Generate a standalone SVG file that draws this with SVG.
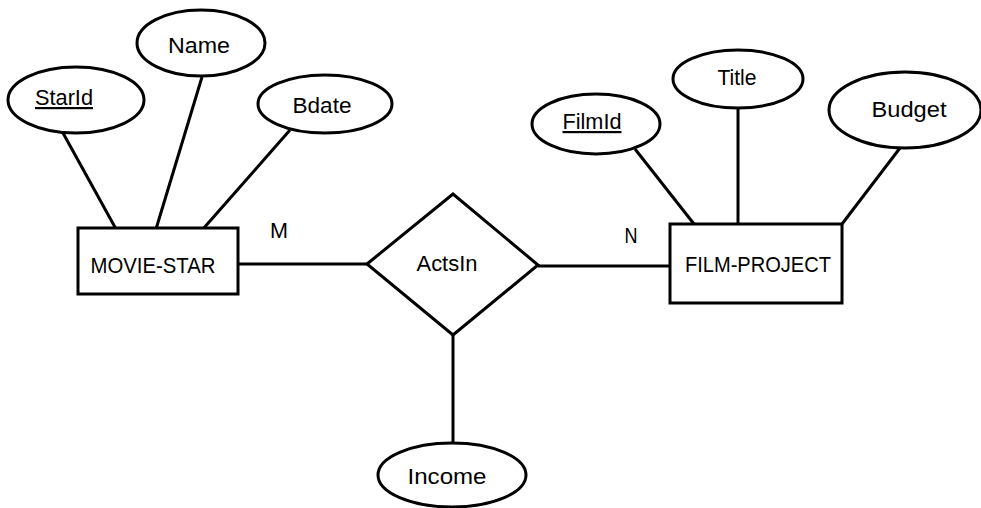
<svg xmlns="http://www.w3.org/2000/svg" width="981" height="508" viewBox="0 0 981 508">
  <style>
    .shape { fill: #fff; stroke: #000; stroke-width: 3; }
    .link { stroke: #000; stroke-width: 3; fill: none; }
    .label { font-family: "Liberation Sans", Arial, sans-serif; font-size: 22px; fill: #000; text-anchor: middle; }
    .key { text-decoration: underline; }
  </style>
  <rect width="981" height="508" fill="#fff"/>

  <!-- connectors -->
  <g id="connectors">
    <line class="link" x1="63" y1="133" x2="116" y2="229"/>
    <line class="link" x1="202" y1="77" x2="156" y2="229"/>
    <line class="link" x1="290" y1="130" x2="203" y2="229"/>
    <line class="link" x1="238" y1="264" x2="367" y2="264"/>
    <line class="link" x1="538" y1="266" x2="670" y2="266"/>
    <line class="link" x1="635" y1="149" x2="694" y2="224"/>
    <line class="link" x1="738" y1="108" x2="738" y2="224"/>
    <line class="link" x1="900" y1="148" x2="842" y2="224"/>
    <line class="link" x1="453" y1="335" x2="453" y2="444"/>
  </g>

  <!-- entity: MOVIE-STAR -->
  <g id="movie-star">
    <rect class="shape" x="78" y="228" width="160" height="66"/>
    <text class="label" x="153" y="273" textLength="125" lengthAdjust="spacingAndGlyphs">MOVIE-STAR</text>
  </g>

  <g id="starid">
    <ellipse class="shape" cx="76" cy="100" rx="68" ry="33"/>
    <text class="label key" x="64" y="105" textLength="58" lengthAdjust="spacingAndGlyphs">StarId</text>
  </g>

  <g id="name">
    <ellipse class="shape" cx="201" cy="43" rx="64" ry="33"/>
    <text class="label" x="199" y="53" textLength="62" lengthAdjust="spacingAndGlyphs">Name</text>
  </g>

  <g id="bdate">
    <ellipse class="shape" cx="325" cy="104" rx="67" ry="29"/>
    <text class="label" x="322" y="113" textLength="59" lengthAdjust="spacingAndGlyphs">Bdate</text>
  </g>

  <!-- relationship: ActsIn -->
  <g id="actsin">
    <polygon class="shape" points="367,264 453,194 538,265 453,335"/>
    <text class="label" x="447" y="271" textLength="61" lengthAdjust="spacingAndGlyphs">ActsIn</text>
  </g>

  <g id="income">
    <ellipse class="shape" cx="452" cy="475" rx="74" ry="32"/>
    <text class="label" x="447" y="484" textLength="79" lengthAdjust="spacingAndGlyphs">Income</text>
  </g>

  <!-- cardinalities -->
  <g id="card-m">
    <text class="label" x="279" y="238" textLength="18" lengthAdjust="spacingAndGlyphs">M</text>
  </g>
  <g id="card-n">
    <text class="label" x="631" y="243" textLength="13" lengthAdjust="spacingAndGlyphs">N</text>
  </g>

  <!-- entity: FILM-PROJECT -->
  <g id="film-project">
    <rect class="shape" x="670" y="224" width="172" height="79"/>
    <text class="label" x="758" y="272" textLength="146" lengthAdjust="spacingAndGlyphs">FILM-PROJECT</text>
  </g>

  <g id="filmid">
    <ellipse class="shape" cx="596" cy="124" rx="64" ry="30"/>
    <text class="label key" x="592" y="129" textLength="59" lengthAdjust="spacingAndGlyphs">FilmId</text>
  </g>

  <g id="title">
    <ellipse class="shape" cx="738" cy="79" rx="65" ry="29"/>
    <text class="label" x="737" y="85" textLength="39" lengthAdjust="spacingAndGlyphs">Title</text>
  </g>

  <g id="budget">
    <ellipse class="shape" cx="905" cy="110" rx="76" ry="38"/>
    <text class="label" x="909" y="117" textLength="75" lengthAdjust="spacingAndGlyphs">Budget</text>
  </g>
</svg>
